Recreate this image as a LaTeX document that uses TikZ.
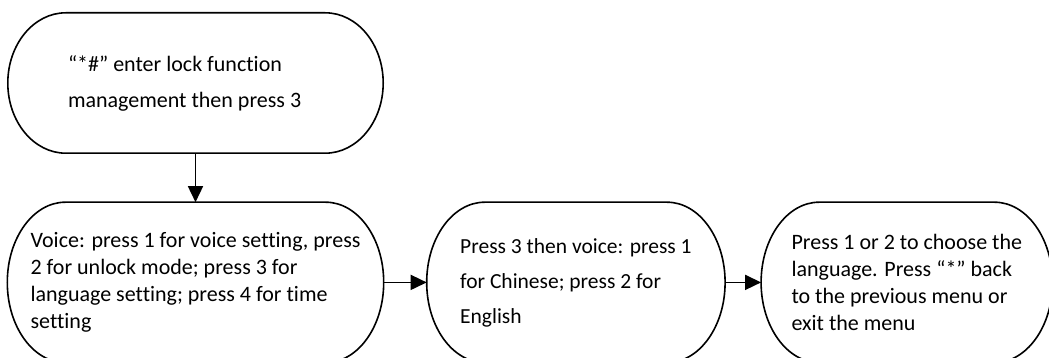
\documentclass[tikz,border=0pt]{standalone}
\usepackage{fontspec}
\setmainfont{Carlito}[Ligatures=NoCommon]
\usetikzlibrary{positioning,calc,arrows.meta}

\begin{document}
\begin{tikzpicture}[%
	every node/.style = {shape=rectangle, align=left, inner sep=0pt, font=\fontsize{22}{27}\selectfont},
	terminal/.style={minimum width=#1, minimum height=160pt},
	outline/.style={draw, line width=1.6pt},
	link/.style={draw, line width=1.6pt, -{Triangle[length=16pt,width=15pt]}}
	]
  \useasboundingbox (0,0) rectangle (1049pt,-358pt);
  \node [terminal=375pt, minimum height=140pt, text width=255pt, align=flush left, font=\fontsize{22}{36}\selectfont] (start) at (195.5pt,-83pt)
    {“*\#” enter lock function\\management then press 3};
  \node [terminal=376pt, below=49pt of start] (voice)
    {Voice: press 1 for voice setting, press\\2 for unlock mode; press 3 for\\language setting; press 4 for time\\setting};
  \node [terminal=298pt, right=43pt of voice, font=\fontsize{21.5}{35}\selectfont] (lang)
    {Press 3 then voice: press 1\\for Chinese; press 2 for\\English};
  \node [terminal=291pt, right=36pt of lang] (choose)
    {Press 1 or 2 to choose the\\language. Press “*” back\\to the previous menu or\\exit the menu};
  \foreach \nd in {start,voice,lang,choose}
    \draw [outline] let \p1=(\nd.north west), \p2=(\nd.south east), \n1={(\y1-\y2)/2} in
      ({\x1+58pt},\y1) -- ({\x2-58pt},\y1) arc[start angle=90, end angle=-90, x radius=58pt, y radius=\n1]
      -- ({\x1+58pt},\y2) arc[start angle=270, end angle=90, x radius=58pt, y radius=\n1] -- cycle;
  \draw [link] (start) -- (voice);
  \draw [link] (voice) -- (lang);
  \draw [link] (lang) -- (choose);
\end{tikzpicture}
\end{document}
